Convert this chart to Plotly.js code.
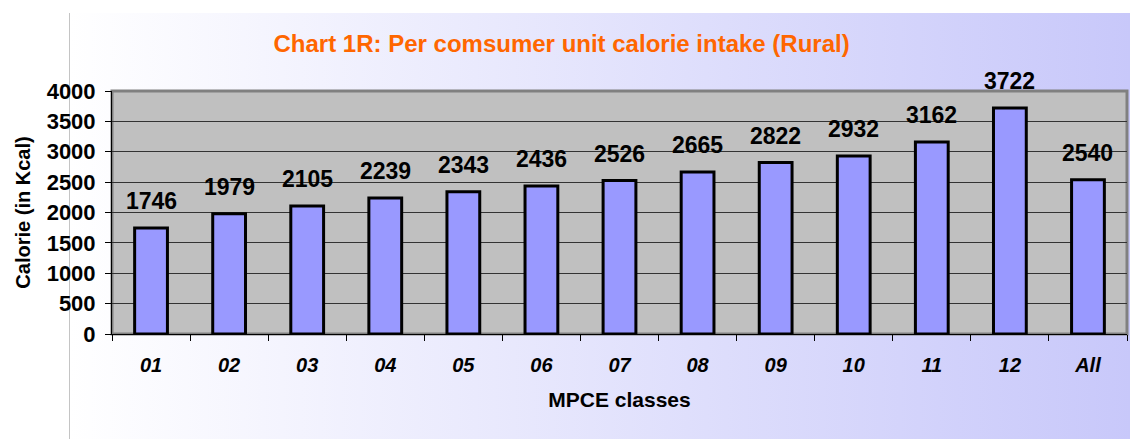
<!DOCTYPE html>
<html>
<head>
<meta charset="utf-8">
<script src="https://cdn.plot.ly/plotly-3.0.1.min.js"></script>
<style>
    body { margin: 0; background: #ffffff; }
    #panel {
        position: absolute; left: 69px; top: 13px; width: 1061px; height: 426px;
        background: linear-gradient(to right, #ffffff, #c8c8fa);
        border-left: 1px solid #c4c4c4;
    }
    #chart { position: absolute; left: 0; top: 0; width: 1130px; height: 439px; }
</style>
</head>
<body>
<div id="panel"></div>
<div id="chart"></div>
<script>
// Chart 1R: per consumer unit calorie intake, rural
const classes = ['01', '02', '03', '04', '05', '06', '07', '08', '09', '10', '11', '12', 'All'];
const calories = [1746, 1979, 2105, 2239, 2343, 2436, 2526, 2665, 2822, 2932, 3162, 3722, 2540];
const yTicks = [0, 500, 1000, 1500, 2000, 2500, 3000, 3500, 4000];

const FONT = 'Liberation Sans, Arial, sans-serif';

const trace = {
    x: classes,
    y: calories,
    type: 'bar',
    marker: { color: '#9999ff', line: { color: '#000000', width: 3 } },
    hoverinfo: 'x+y'
};

// value labels sit a little above each bar (x given as category index,
// since '01' etc. would otherwise be read as numbers)
const labels = classes.map((c, i) => ({
    xref: 'x', yref: 'y',
    x: i,
    y: calories[i],
    text: String(calories[i]),
    showarrow: false,
    yanchor: 'bottom',
    yshift: 12,
    font: { family: FONT, size: 23, color: '#000000', weight: 'bold' }
}));

const layout = {
    width: 1130,
    height: 439,
    margin: { l: 112, r: 3, t: 91, b: 105 },
    paper_bgcolor: 'rgba(0,0,0,0)',
    plot_bgcolor: '#c0c0c0',
    showlegend: false,
    bargap: 0.58,
    title: {
        text: 'Chart 1R: Per comsumer unit calorie intake (Rural)',
        font: { family: FONT, size: 24, color: '#ff6600', weight: 'bold' },
        xref: 'container', yref: 'container',
        x: 0.497, y: 0.9, xanchor: 'center', yanchor: 'middle'
    },
    xaxis: {
        type: 'category',
        tickson: 'boundaries',
        ticks: 'outside', ticklen: 6, tickcolor: '#000000', tickwidth: 1,
        showline: true, linecolor: '#000000', linewidth: 1,
        showgrid: false,
        ticklabelstandoff: 13,
        tickfont: { family: FONT, size: 20, color: '#000000', weight: 'bold', style: 'italic' },
        title: {
            text: 'MPCE classes', standoff: 17,
            font: { family: FONT, size: 21, color: '#000000', weight: 'bold' }
        }
    },
    yaxis: {
        range: [0, 4000],
        tickvals: yTicks,
        ticks: 'outside', ticklen: 6, tickcolor: '#000000', tickwidth: 1,
        showline: true, linecolor: '#000000', linewidth: 1,
        showgrid: true, gridcolor: '#333333', gridwidth: 1,
        zeroline: false,
        ticklabelstandoff: 5,
        tickfont: { family: FONT, size: 22, color: '#000000', weight: 'bold' },
        title: {
            text: 'Calorie (in Kcal)', standoff: 10,
            font: { family: FONT, size: 20, color: '#000000', weight: 'bold' }
        }
    },
    shapes: [{
        type: 'rect', xref: 'paper', yref: 'paper', x0: 0, x1: 1, y0: 0, y1: 1,
        line: { color: '#808080', width: 3 }, layer: 'below'
    }],
    annotations: labels
};

Plotly.newPlot('chart', [trace], layout, { displayModeBar: false, staticPlot: true });
</script>
</body>
</html>
